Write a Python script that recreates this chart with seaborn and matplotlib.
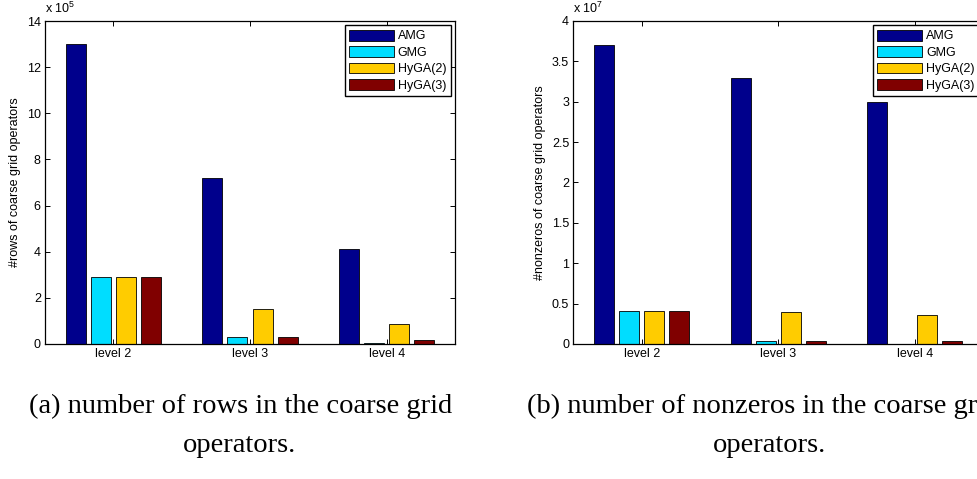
import matplotlib
matplotlib.use("Agg")
import matplotlib.pyplot as plt
import seaborn as sns
import pandas as pd

# ---- data ----
levels = ["level 2", "level 3", "level 4"]
methods = ["AMG", "GMG", "HyGA(2)", "HyGA(3)"]
colors = ["#00008C", "#00DDFF", "#FFCC00", "#800000"]

# (a) rows, in units of 1e5
rows_amg = [13.0, 7.2, 4.1]
rows_gmg = [2.9, 0.29, 0.03]
rows_hyga2 = [2.9, 1.5, 0.86]
rows_hyga3 = [2.9, 0.29, 0.16]

# (b) nonzeros, in units of 1e7
nnz_amg = [3.7, 3.3, 3.0]
nnz_gmg = [0.41, 0.037, 0.005]
nnz_hyga2 = [0.41, 0.40, 0.36]
nnz_hyga3 = [0.41, 0.04, 0.037]

rows_ticks = [0, 2, 4, 6, 8, 10, 12, 14]
nnz_ticks = [0, 0.5, 1, 1.5, 2, 2.5, 3, 3.5, 4]
nnz_ticklabels = ["0", "0.5", "1", "1.5", "2", "2.5", "3", "3.5", "4"]


def long_df(series):
    recs = []
    for m, vals in zip(methods, series):
        for lv, v in zip(levels, vals):
            recs.append({"level": lv, "method": m, "value": v})
    return pd.DataFrame(recs)


df_rows = long_df([rows_amg, rows_gmg, rows_hyga2, rows_hyga3])
df_nnz = long_df([nnz_amg, nnz_gmg, nnz_hyga2, nnz_hyga3])

sns.set_theme(style="white")
plt.rcParams["font.family"] = ["Liberation Sans", "DejaVu Sans"]
plt.rcParams["mathtext.default"] = "regular"
plt.rcParams["text.color"] = "black"
plt.rcParams["axes.labelcolor"] = "black"
plt.rcParams["xtick.color"] = "black"
plt.rcParams["ytick.color"] = "black"

W, H = 978, 479
fig = plt.figure(figsize=(W / 100, H / 100), dpi=100)
fig.patch.set_facecolor("white")

FS = 9


def make_panel(left_px, df, ymax, yticks, yticklabels, ylabel, mult):
    ax = fig.add_axes([left_px / W, (H - 344) / H, 410 / W, 323 / H])
    sns.barplot(data=df, x="level", y="value", hue="method", palette=colors,
                hue_order=methods, order=levels, width=0.732, gap=0.2,
                edgecolor="black", linewidth=0.6, ax=ax, errorbar=None,
                saturation=1)
    ax.set_xlim(-0.5, 2.5)
    ax.set_ylim(0, ymax)
    ax.set_yticks(yticks)
    ax.set_yticklabels(yticklabels)
    ax.set_xlabel("")
    ax.set_ylabel(ylabel, fontsize=FS, labelpad=4)
    ax.tick_params(axis="both", which="both", direction="in", length=3.5,
                   width=0.7, labelsize=FS, top=True, right=True,
                   bottom=True, left=True, color="black", pad=3)
    for s in ax.spines.values():
        s.set_color("black")
        s.set_linewidth(0.9)
        s.set_visible(True)
    ax.text(0.0, 1.015, mult, transform=ax.transAxes, ha="left", va="bottom",
            fontsize=FS)
    leg = ax.legend(loc="upper right", fontsize=FS, frameon=True,
                    fancybox=False, edgecolor="black", framealpha=1,
                    handlelength=3.6, handleheight=0.95, labelspacing=0.3,
                    borderpad=0.35, handletextpad=0.3, borderaxespad=0.35)
    leg.get_frame().set_linewidth(1.0)
    return ax


make_panel(45, df_rows, 14, rows_ticks, [str(t) for t in rows_ticks],
           "#rows of coarse grid operators", r"x 10$^{5}$")
make_panel(573.3, df_nnz, 4, nnz_ticks, nnz_ticklabels,
           "#nonzeros of coarse grid operators", r"x 10$^{7}$")

cap_font = dict(family=["Liberation Serif", "DejaVu Serif"], fontsize=20.5,
                color="black")
fig.text(241 / W, 1 - 406 / H, "(a) number of rows in the coarse grid",
         ha="center", va="center", **cap_font)
fig.text(240 / W, 1 - 446 / H, "operators.", ha="center", va="center", **cap_font)
fig.text(527 / W, 1 - 406 / H, "(b) number of nonzeros in the coarse grid",
         ha="left", va="center", **cap_font)
fig.text(770 / W, 1 - 446 / H, "operators.", ha="center", va="center", **cap_font)

fig.savefig("out.png", dpi=100, facecolor="white")
